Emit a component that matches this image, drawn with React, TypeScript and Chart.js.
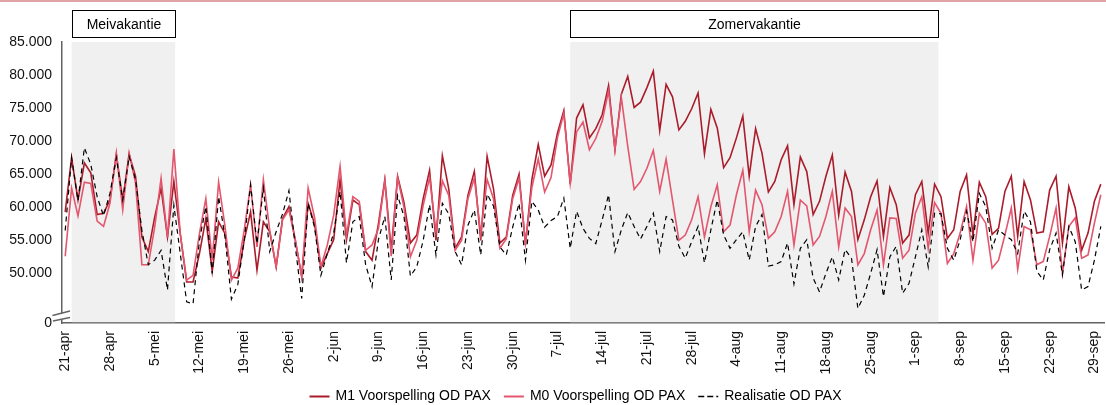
import React, { useEffect, useRef } from 'react';
import { Chart, registerables } from 'chart.js';

Chart.register(...registerables);

// ---- categories: daily dates 21-apr .. 30-sep ----
const MONTHS = ['jan', 'feb', 'mrt', 'apr', 'mei', 'jun', 'jul', 'aug', 'sep', 'okt', 'nov', 'dec'];
const FIRST_DAY = '2022-04-21';
const DAY_COUNT = 163;
function buildDays(): string[] {
  const out: string[] = [];
  const d = new Date(FIRST_DAY + 'T00:00:00Z');
  for (let i = 0; i < DAY_COUNT; i++) {
    out.push(`${d.getUTCDate()}-${MONTHS[d.getUTCMonth()]}`);
    d.setUTCDate(d.getUTCDate() + 1);
  }
  return out;
}
const DAYS = buildDays();

const TICK_LABELS = [
  '21-apr', '28-apr', '5-mei', '12-mei', '19-mei', '26-mei', '2-jun', '9-jun', '16-jun', '23-jun',
  '30-jun', '7-jul', '14-jul', '21-jul', '28-jul', '4-aug', '11-aug', '18-aug', '25-aug', '1-sep',
  '8-sep', '15-sep', '22-sep', '29-sep',
];

const Y_TICKS = [42500, 50000, 55000, 60000, 65000, 70000, 75000, 80000, 85000];

// ---- series ----
const M1_VOORSPELLING = [
  59300, 67500, 61100, 66700, 65200, 58900, 59100, 61100, 68000, 61100,
  68000, 64700, 55500, 53300, 58500, 62900, 55500, 63900, 56000, 48700,
  48700, 53000, 58300, 50300, 57800, 56000, 49500, 49300, 55000, 59300,
  50500, 57800, 56300, 51000, 58300, 60100, 55000, 49500, 60600, 57500,
  50800, 53000, 55100, 64200, 55100, 61100, 60400, 53300, 52000, 57500,
  64200, 53500, 64700, 60700, 54600, 55800, 61300, 65600, 55000, 67800,
  62800, 53800, 55500, 61800, 65400, 55000, 67700, 62800, 54600, 55500,
  61800, 65000, 54300, 64200, 69500, 64700, 66400, 71200, 74600, 63500,
  73500, 75500, 70500, 71900, 74000, 78400, 68700, 77100, 79800, 75100,
  75900, 78100, 80600, 71600, 78600, 76700, 71700, 73000, 74900, 77300,
  68100, 74800, 72000, 66000, 67500, 70500, 73800, 64700, 71900, 68200,
  62300, 63900, 67200, 69300, 60400, 67600, 65400, 58900, 60900, 64700,
  67900, 58800, 65300, 62400, 55100, 58100, 61600, 64000, 55600, 63000,
  60400, 54600, 55800, 61900, 63900, 56100, 63500, 61600, 55300, 56600,
  62400, 64900, 55800, 63800, 61600, 55900, 56800, 62400, 64700, 55600,
  63900, 61100, 56100, 56300, 62600, 64700, 54600, 63100, 59900, 53500,
  56100, 60900, 63500,
];

const M0_VOORSPELLING = [
  52600, 62900, 58700, 63800, 63600, 57900, 57100, 60600, 68200, 59600,
  68200, 63700, 51300, 51300, 57000, 64400, 55400, 68800, 56000, 49000,
  49700, 56000, 61300, 52000, 63800, 57100, 49000, 50800, 56500, 63400,
  54000, 64200, 56500, 51000, 58100, 59600, 55000, 49500, 62900, 58500,
  51000, 54300, 58800, 66200, 55800, 61600, 60900, 53500, 54300, 56800,
  64000, 52600, 64500, 60000, 52500, 55000, 60300, 64500, 56300, 64000,
  61800, 53500, 55000, 61300, 64400, 56000, 64200, 61300, 53800, 55200,
  61300, 64400, 54600, 63000, 67300, 62300, 64500, 70500, 74200, 63600,
  71400, 72900, 68700, 70400, 73000, 77600, 68800, 76600, 69200, 62700,
  63900, 65900, 68600, 62400, 67300, 61100, 55000, 55800, 58100, 61600,
  55500, 60100, 63400, 56300, 57300, 61900, 65600, 56300, 62600, 60400,
  55300, 56300, 58600, 62400, 54300, 61100, 60200, 54300, 55600, 58600,
  62400, 54000, 59900, 58600, 51300, 53000, 56600, 59600, 51300, 58400,
  58300, 52300, 53500, 59100, 61600, 53800, 60700, 59100, 51500, 53000,
  56100, 60100, 52000, 59100, 57600, 50800, 52000, 55800, 59900, 50600,
  57100, 56600, 51300, 51800, 55600, 59900, 50000, 57100, 58400, 52300,
  52800, 57600, 61900,
];

const REALISATIE = [
  56500, 67500, 61000, 69000, 66500, 61600, 58700, 62100, 67500, 61100,
  67700, 64200, 56500, 51300, 52000, 53500, 47500, 60300, 53000, 45700,
  45400, 55000, 60100, 50000, 61600, 55500, 46100, 48300, 55000, 63400,
  54500, 62900, 53300, 56300, 59000, 62500, 54000, 46200, 60600, 57000,
  49700, 53000, 56100, 62400, 51600, 57800, 58600, 51300, 48000, 55100,
  58600, 49000, 61800, 58600, 49600, 51000, 55000, 60400, 52800, 60600,
  59000, 53300, 51300, 57300, 59600, 52800, 62000, 60200, 54000, 52800,
  57000, 60600, 52000, 60900, 59600, 57000, 58000, 58600, 61400, 53800,
  59400, 56800, 55300, 54500, 58100, 61900, 53300, 56600, 59200, 57100,
  55200, 57100, 59100, 53300, 58600, 58100, 54100, 52300, 54800, 57100,
  51600, 56600, 61100, 55800, 53800, 55100, 56300, 52000, 57100, 58900,
  51100, 51300, 51800, 54600, 48400, 53800, 55100, 49300, 47200, 50000,
  52500, 49000, 53600, 52300, 44700, 46700, 50000, 53600, 46500, 52500,
  54100, 47000, 48500, 52500, 56600, 51000, 59100, 59000, 53800, 52000,
  55100, 59400, 54800, 62100, 60100, 53800, 56600, 55800, 55100, 53000,
  59400, 57800, 50300, 49000, 53600, 56100, 49800, 57100, 54800, 47500,
  48000, 52000, 57100,
];

// vacation periods: label, start/end position on the category index axis
const VAKANTIE_NAMEN = ['Meivakantie', 'Zomervakantie'];
const VAKANTIE_START = [1.0, 79.0];
const VAKANTIE_EIND = [17.2, 136.6];

const SERIES_NAMES = ['M1 Voorspelling OD PAX', 'M0 Voorspelling OD PAX', 'Realisatie OD PAX'];
const COLORS = ['#ab1c2b', '#e3566d', '#000000'];

const FONT = "'Liberation Sans', Arial, sans-serif";
const AXIS_COLOR = '#636363';

function fmt(v: number): string {
  return String(v).replace(/\B(?=(\d{3})+(?!\d))/g, '.');
}

const decorPlugin = {
  id: 'decor',
  beforeDatasetsDraw(chart: any) {
    const { ctx, chartArea, scales } = chart;
    const x = scales.x;
    const p0 = x.getPixelForValue(0);
    const step = x.getPixelForValue(1) - p0;
    ctx.save();
    ctx.fillStyle = '#f0f0f0';
    for (let k = 0; k < VAKANTIE_NAMEN.length; k++) {
      const x1 = p0 + VAKANTIE_START[k] * step;
      const x2 = p0 + VAKANTIE_EIND[k] * step;
      ctx.fillRect(x1, chartArea.top, x2 - x1, chartArea.bottom - chartArea.top - 0.8);
    }
    ctx.restore();
  },
  afterDraw(chart: any) {
    const { ctx, chartArea, scales, width } = chart;
    const x = scales.x;
    const p0 = x.getPixelForValue(0);
    const step = x.getPixelForValue(1) - p0;
    ctx.save();
    // top line
    ctx.fillStyle = '#dfa3a3';
    ctx.fillRect(0, 0, width, 2);

    // vacation label boxes
    ctx.font = `14px ${FONT}`;
    ctx.textAlign = 'center';
    ctx.textBaseline = 'middle';
    for (let k = 0; k < VAKANTIE_NAMEN.length; k++) {
      const x1 = Math.round(p0 + VAKANTIE_START[k] * step) + 0.5;
      const x2 = Math.round(p0 + VAKANTIE_EIND[k] * step) + 0.5;
      const top = 10.5;
      const h = 27;
      ctx.fillStyle = '#ffffff';
      ctx.fillRect(x1, top, x2 - x1, h);
      ctx.strokeStyle = '#000000';
      ctx.lineWidth = 1;
      ctx.strokeRect(x1, top, x2 - x1, h);
      ctx.fillStyle = '#000000';
      ctx.fillText(VAKANTIE_NAMEN[k], (x1 + x2) / 2, top + h / 2 + 1);
    }

    // axis break marks
    const L = chartArea.left;
    const B = chartArea.bottom;
    ctx.fillStyle = '#ffffff';
    ctx.beginPath();
    ctx.moveTo(L - 3, B - 8.5);
    ctx.lineTo(L + 3, B - 10.5);
    ctx.lineTo(L + 3, B - 4.5);
    ctx.lineTo(L - 3, B - 2.5);
    ctx.closePath();
    ctx.fill();
    ctx.strokeStyle = AXIS_COLOR;
    ctx.lineWidth = 1.3;
    ctx.beginPath();
    ctx.moveTo(L - 9.5, B - 7.5);
    ctx.lineTo(L + 8, B - 12);
    ctx.moveTo(L - 9, B - 2);
    ctx.lineTo(L + 8, B - 5.5);
    ctx.stroke();

    // legend
    ctx.font = `14px ${FONT}`;
    ctx.textAlign = 'left';
    ctx.textBaseline = 'middle';
    const sample = 20;
    const gapText = 6;
    const gapItem = 13;
    const widths = SERIES_NAMES.map((n) => ctx.measureText(n).width);
    let total = 0;
    widths.forEach((w, i) => {
      total += sample + gapText + w + (i < widths.length - 1 ? gapItem : 0);
    });
    let cx = 575.5 - total / 2;
    const ly = 396;
    for (let i = 0; i < SERIES_NAMES.length; i++) {
      ctx.strokeStyle = COLORS[i];
      ctx.lineWidth = i === 2 ? 1.3 : 2;
      ctx.setLineDash(i === 2 ? [6, 3] : []);
      ctx.beginPath();
      ctx.moveTo(cx, ly + 0.5);
      ctx.lineTo(cx + sample, ly + 0.5);
      ctx.stroke();
      ctx.setLineDash([]);
      ctx.fillStyle = '#000000';
      ctx.fillText(SERIES_NAMES[i], cx + sample + gapText, ly);
      cx += sample + gapText + widths[i] + gapItem;
    }
    ctx.restore();
  },
};

export default function App() {
  const ref = useRef<HTMLCanvasElement | null>(null);

  useEffect(() => {
    if (!ref.current) return;
    const tickSet = new Set(TICK_LABELS);
    const chart = new Chart(ref.current, {
      type: 'line',
      data: {
        labels: DAYS,
        datasets: [
          {
            label: SERIES_NAMES[0],
            data: M1_VOORSPELLING,
            borderColor: COLORS[0],
            borderWidth: 1.6,
            pointRadius: 0,
            tension: 0,
            order: 3,
          },
          {
            label: SERIES_NAMES[1],
            data: M0_VOORSPELLING,
            borderColor: COLORS[1],
            borderWidth: 1.6,
            pointRadius: 0,
            tension: 0,
            order: 2,
          },
          {
            label: SERIES_NAMES[2],
            data: REALISATIE,
            borderColor: COLORS[2],
            borderWidth: 1.2,
            borderDash: [5, 4],
            pointRadius: 0,
            tension: 0,
            order: 1,
          },
        ],
      },
      options: {
        animation: false,
        responsive: false,
        maintainAspectRatio: false,
        events: [],
        layout: { padding: { left: 0, right: 2, top: 42, bottom: 0 } },
        font: { family: FONT, size: 14 },
        plugins: {
          legend: { display: false },
          tooltip: { enabled: false },
        },
        scales: {
          x: {
            type: 'category',
            offset: true,
            grid: { display: false, drawTicks: false },
            border: { display: true, color: AXIS_COLOR, width: 1.5 },
            ticks: {
              autoSkip: false,
              minRotation: 90,
              maxRotation: 90,
              padding: 8,
              color: '#111111',
              font: { family: FONT, size: 14 },
              callback: (_v: any, i: number) => (tickSet.has(DAYS[i]) ? DAYS[i] : ''),
            },
            afterFit: (s: any) => {
              s.height = 82;
              s.paddingLeft = 0;
              s.paddingRight = 0;
            },
          },
          y: {
            min: 42500,
            max: 85000,
            grid: { display: false, drawTicks: false },
            border: { display: true, color: AXIS_COLOR, width: 1.5 },
            ticks: {
              padding: 10,
              color: '#111111',
              font: { family: FONT, size: 14 },
              callback: (v: any) => (Number(v) === Y_TICKS[0] ? '0' : fmt(Number(v))),
            },
            afterBuildTicks: (s: any) => {
              s.ticks = Y_TICKS.map((v) => ({ value: v }));
            },
            afterFit: (s: any) => {
              s.width = 62;
              s.paddingTop = 0;
              s.paddingBottom = 0;
            },
          },
        },
      } as any,
      plugins: [decorPlugin],
    });
    return () => chart.destroy();
  }, []);

  return (
    <div style={{ position: 'absolute', left: 0, top: 0, width: 1106, height: 405, background: '#ffffff' }}>
      <canvas ref={ref} width={1106} height={405} style={{ display: 'block', width: 1106, height: 405 }} />
    </div>
  );
}
